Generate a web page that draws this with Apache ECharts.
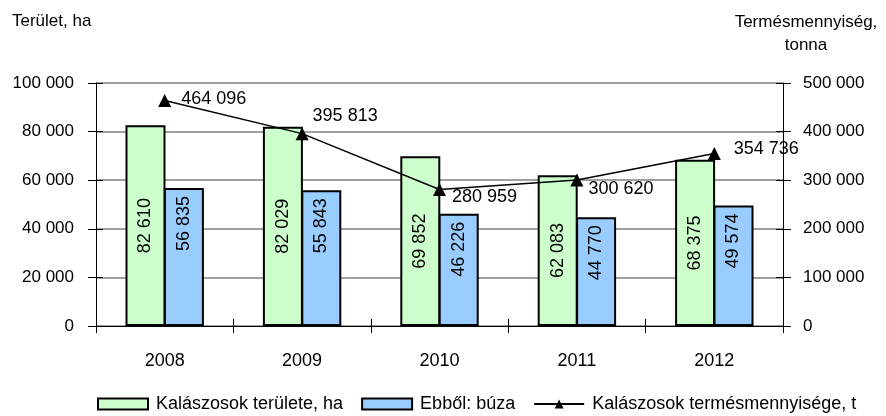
<!DOCTYPE html>
<html>
<head>
<meta charset="utf-8">
<script src="https://cdn.jsdelivr.net/npm/echarts@6/dist/echarts.min.js"></script>
<style>
  html, body { margin: 0; padding: 0; background: #fff; }
  #chart { width: 886px; height: 416px; }
</style>
</head>
<body>
<div id="chart"></div>
<script>
// adatok
var years = ['2008', '2009', '2010', '2011', '2012'];
var areaAll = [82610, 82029, 69852, 62083, 68375];     // Kalászosok területe, ha
var areaWheat = [56835, 55843, 46226, 44770, 49574];   // Ebből: búza
var harvest = [464096, 395813, 280959, 300620, 354736]; // termésmennyiség, t
var leftTicks = { min: 0, max: 100000, interval: 20000 };
var rightTicks = { min: 0, max: 500000, interval: 100000 };

// label eltolások a vonal pontjainál
var lineLabelOffsets = [[10, -1], [4, -18], [6, 8], [5, 9], [13, -5]];

var FONT = 'Liberation Sans, Arial, sans-serif';

function fmt(v) {
    return String(v).replace(/\B(?=(\d{3})+(?!\d))/g, ' ');
}

var dom = document.getElementById('chart');
var myChart = echarts.init(dom);

var tickOnly = {
    axisLine: { show: false },
    axisLabel: { show: false },
    splitLine: { show: false },
    axisTick: { show: true, inside: true, length: 7, lineStyle: { color: '#000', width: 1 } }
};

option = {
    animation: false,
    backgroundColor: '#fff',
    textStyle: { fontFamily: FONT },
    grid: { left: 96, right: 103, top: 83, bottom: 90, containLabel: false },
    graphic: [
        { type: 'text', left: 12, top: 13, style: { text: 'Terület, ha', font: '17px ' + FONT, fill: '#000' } },
        { type: 'text', x: 806, y: 11, style: { text: 'Termésmennyiség,\ntonna', font: '17px ' + FONT, fill: '#000', align: 'center', lineHeight: 23 } }
    ],
    legend: {
        left: 92,
        top: 390,
        itemWidth: 50,
        itemHeight: 11,
        itemGap: 18,
        textStyle: { fontSize: 18, color: '#000', fontFamily: FONT, padding: [0, 0, 0, 3] },
        data: [
            { name: 'Kalászosok területe, ha', icon: 'rect' },
            { name: 'Ebből: búza', icon: 'rect' },
            { name: 'Kalászosok termésmennyisége, t' }
        ]
    },
    xAxis: [{
        type: 'category',
        data: years,
        axisLine: { lineStyle: { color: '#000', width: 1 } },
        axisTick: { show: true, length: 7, lineStyle: { color: '#000' } },
        axisLabel: { color: '#000', fontSize: 18, margin: 26, fontFamily: FONT }
    }, Object.assign({
        type: 'category',
        data: years,
        position: 'bottom'
    }, tickOnly)],
    yAxis: [{
        type: 'value',
        min: leftTicks.min, max: leftTicks.max, interval: leftTicks.interval,
        axisLine: { show: true, lineStyle: { color: '#000', width: 1 } },
        axisTick: { show: true, length: 8, lineStyle: { color: '#000' } },
        axisLabel: { color: '#000', fontSize: 17, margin: 22, formatter: fmt, fontFamily: FONT },
        splitLine: { lineStyle: { color: '#808080', width: 1.5 } }
    }, {
        type: 'value',
        position: 'right',
        min: rightTicks.min, max: rightTicks.max, interval: rightTicks.interval,
        axisLine: { show: true, lineStyle: { color: '#000', width: 1 } },
        axisTick: { show: true, length: 8, lineStyle: { color: '#000' } },
        axisLabel: { color: '#000', fontSize: 17, margin: 20, formatter: fmt, fontFamily: FONT },
        splitLine: { show: false }
    }, Object.assign({
        type: 'value', position: 'left',
        min: leftTicks.min, max: leftTicks.max, interval: leftTicks.interval
    }, tickOnly), Object.assign({
        type: 'value', position: 'right',
        min: rightTicks.min, max: rightTicks.max, interval: rightTicks.interval
    }, tickOnly)],
    series: [{
        name: 'Kalászosok területe, ha',
        type: 'bar',
        data: areaAll,
        barWidth: 40,
        barGap: '-4%',
        itemStyle: { color: '#CCFFCC', borderColor: '#000', borderWidth: 2 },
        label: {
            show: true, position: 'inside', rotate: 90,
            color: '#000', fontSize: 18, fontFamily: FONT, formatter: function (p) { return fmt(p.value); }
        }
    }, {
        name: 'Ebből: búza',
        type: 'bar',
        data: areaWheat,
        barWidth: 40,
        barGap: '-4%',
        itemStyle: { color: '#99CCFF', borderColor: '#000', borderWidth: 2 },
        label: {
            show: true, position: 'insideTop', distance: 8, rotate: 90,
            align: 'right', verticalAlign: 'middle',
            color: '#000', fontSize: 18, fontFamily: FONT, formatter: function (p) { return fmt(p.value); }
        }
    }, {
        name: 'Kalászosok termésmennyisége, t',
        type: 'line',
        yAxisIndex: 1,
        z: 5,
        data: harvest.map(function (v, i) {
            return { value: v, label: { offset: lineLabelOffsets[i] } };
        }),
        symbol: 'triangle',
        symbolSize: 13,
        lineStyle: { color: '#000', width: 1.5 },
        itemStyle: { color: '#000' },
        label: {
            show: true, position: 'right', distance: 0,
            color: '#000', fontSize: 18, fontFamily: FONT, formatter: function (p) { return fmt(p.value); }
        }
    }]
};

if (option && typeof option === 'object') {
    myChart.setOption(option, true);
}
</script>
</body>
</html>
